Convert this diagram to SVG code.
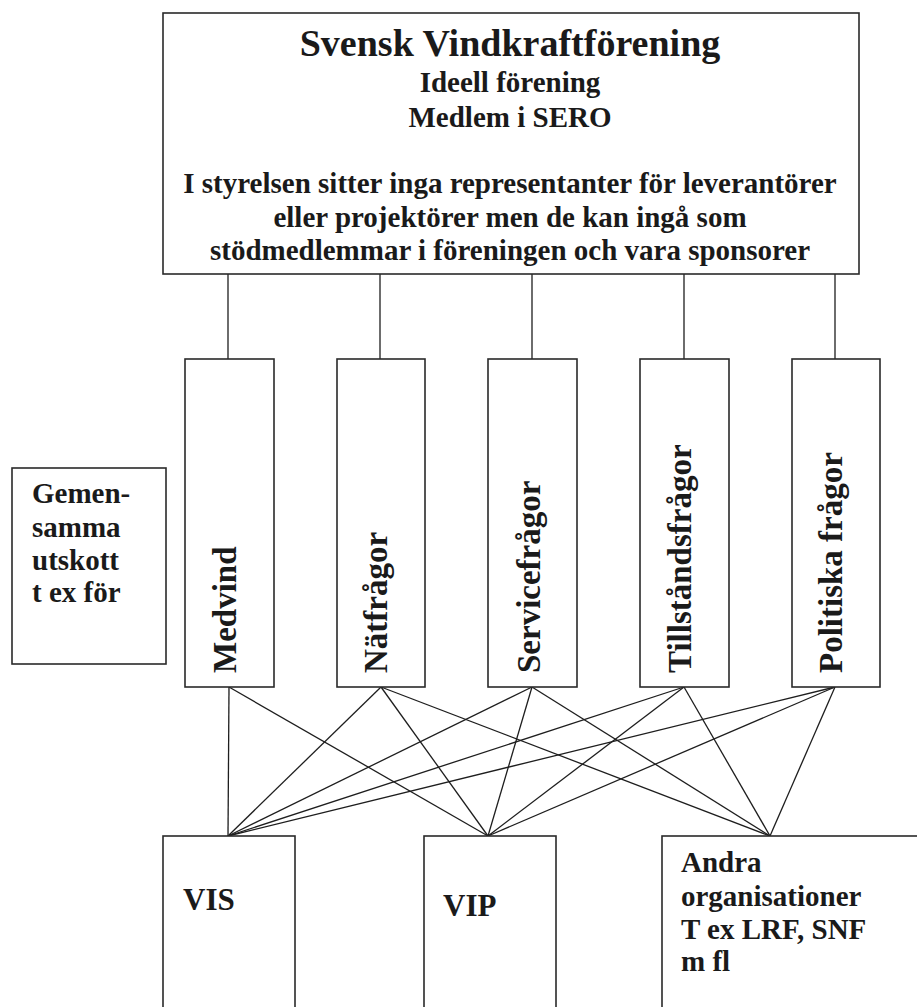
<svg xmlns="http://www.w3.org/2000/svg" width="917" height="1007" viewBox="0 0 917 1007">
<style>
.box{fill:#fff;stroke:#2a2a2a;stroke-width:1.6}
.ln{stroke:#1e1e1e;stroke-width:1.3;fill:none}
text{font-family:"Liberation Serif","Times New Roman",serif;font-weight:bold;fill:#1a1a1a}
.t1{font-size:38px}
.t2{font-size:29px}
.rot{font-size:33px}
.big{font-size:31px}
</style>
<rect width="917" height="1007" fill="#fff"/>
<g id="connectors">
<line class="ln" x1="228" y1="274" x2="228" y2="359"/>
<line class="ln" x1="380" y1="274" x2="380" y2="359"/>
<line class="ln" x1="532" y1="274" x2="532" y2="359"/>
<line class="ln" x1="684" y1="274" x2="684" y2="359"/>
<line class="ln" x1="835" y1="274" x2="835" y2="359"/>
<line class="ln" x1="229" y1="687" x2="228" y2="836"/>
<line class="ln" x1="229" y1="687" x2="488" y2="836"/>
<line class="ln" x1="381" y1="687" x2="228" y2="836"/>
<line class="ln" x1="381" y1="687" x2="488" y2="836"/>
<line class="ln" x1="381" y1="687" x2="770" y2="836"/>
<line class="ln" x1="532" y1="687" x2="228" y2="836"/>
<line class="ln" x1="532" y1="687" x2="488" y2="836"/>
<line class="ln" x1="532" y1="687" x2="770" y2="836"/>
<line class="ln" x1="684" y1="687" x2="228" y2="836"/>
<line class="ln" x1="684" y1="687" x2="488" y2="836"/>
<line class="ln" x1="684" y1="687" x2="770" y2="836"/>
<line class="ln" x1="835" y1="687" x2="228" y2="836"/>
<line class="ln" x1="835" y1="687" x2="488" y2="836"/>
<line class="ln" x1="835" y1="687" x2="770" y2="836"/>
</g>
<g id="svensk">
<rect class="box" x="163" y="13" width="696" height="261"/>
<text class="t1" x="510" y="56" text-anchor="middle">Svensk Vindkraftförening</text>
<text class="t2" x="510" y="92" text-anchor="middle">Ideell förening</text>
<text class="t2" x="510" y="127" text-anchor="middle">Medlem i SERO</text>
<text class="t2" x="510" y="193" text-anchor="middle">I styrelsen sitter inga representanter för leverantörer</text>
<text class="t2" x="510" y="227" text-anchor="middle">eller projektörer men de kan ingå som</text>
<text class="t2" x="510" y="260" text-anchor="middle">stödmedlemmar i föreningen och vara sponsorer</text>
</g>
<g id="gemensamma">
<rect class="box" x="12" y="468" width="154" height="196"/>
<text class="t2" x="32" y="503">Gemen-</text>
<text class="t2" x="32" y="537">samma</text>
<text class="t2" x="32" y="570">utskott</text>
<text class="t2" x="32" y="602">t ex för</text>
</g>
<g id="medvind">
<rect class="box" x="185" y="359" width="89" height="328"/>
<text class="rot" transform="translate(236,673) rotate(-90)">Medvind</text>
</g>
<g id="natfragor">
<rect class="box" x="337" y="359" width="88" height="328"/>
<text class="rot" transform="translate(387,673) rotate(-90)">Nätfrågor</text>
</g>
<g id="servicefragor">
<rect class="box" x="488" y="359" width="89" height="328"/>
<text class="rot" transform="translate(540,673) rotate(-90)">Servicefrågor</text>
</g>
<g id="tillstandsfragor">
<rect class="box" x="640" y="359" width="89" height="328"/>
<text class="rot" transform="translate(691,673) rotate(-90)">Tillståndsfrågor</text>
</g>
<g id="politiska">
<rect class="box" x="792" y="359" width="88" height="328"/>
<text class="rot" transform="translate(842,673) rotate(-90)">Politiska frågor</text>
</g>
<g id="vis">
<rect class="box" x="163" y="836" width="132" height="200"/>
<text class="big" x="183" y="910">VIS</text>
</g>
<g id="vip">
<rect class="box" x="424" y="836" width="132" height="200"/>
<text class="big" x="443" y="916">VIP</text>
</g>
<g id="andra">
<rect class="box" x="662" y="836" width="280" height="200"/>
<text class="t2" x="681" y="872">Andra</text>
<text class="t2" x="681" y="906">organisationer</text>
<text class="t2" x="681" y="939">T ex LRF, SNF</text>
<text class="t2" x="681" y="971">m fl</text>
</g>
</svg>
